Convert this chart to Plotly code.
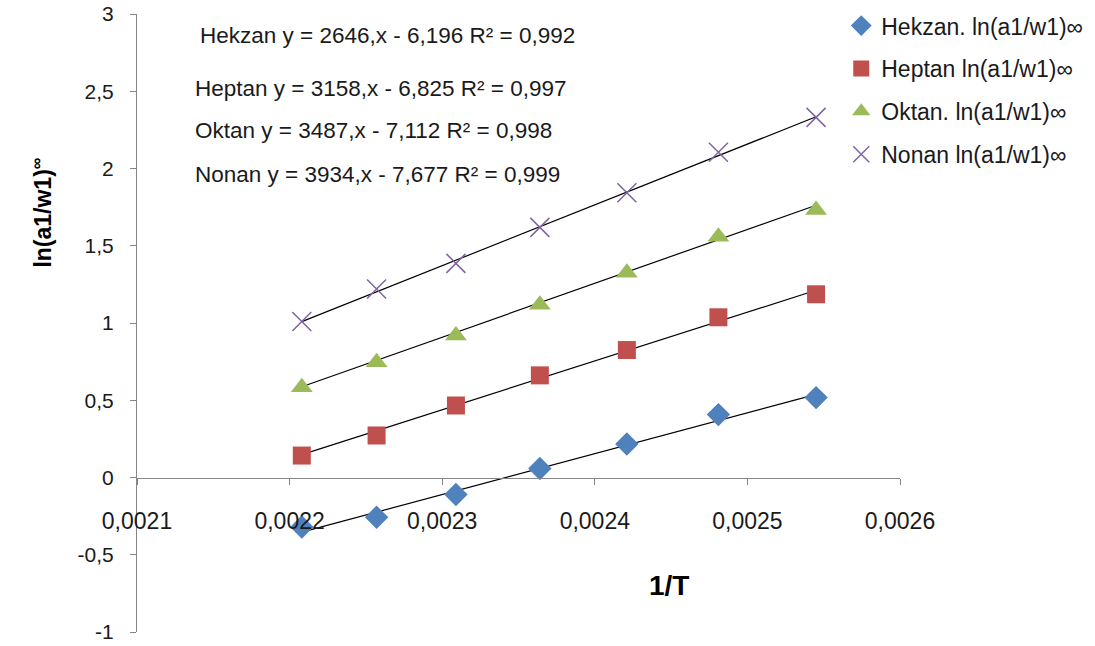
import plotly.graph_objects as go

# ---- data ----
inv_T = [0.002208, 0.002257, 0.002309, 0.002364, 0.002421, 0.002481, 0.002545]
hekzan = [-0.32, -0.257, -0.11, 0.058, 0.217, 0.407, 0.517]
heptan = [0.142, 0.272, 0.466, 0.661, 0.825, 1.037, 1.186]
oktan = [0.584, 0.746, 0.919, 1.118, 1.326, 1.559, 1.731]
nonan = [1.01, 1.22, 1.386, 1.619, 1.843, 2.105, 2.331]

series_names = ["Hekzan. ln(a1/w1)∞", "Heptan ln(a1/w1)∞", "Oktan. ln(a1/w1)∞", "Nonan ln(a1/w1)∞"]
short_names = ["Hekzan", "Heptan", "Oktan", "Nonan"]
slopes = [2646, 3158, 3487, 3934]
intercepts = [-6.196, -6.825, -7.112, -7.677]
r2 = ["0,992", "0,997", "0,998", "0,999"]
slope_txt = ["2646", "3158", "3487", "3934"]
icpt_txt = ["6,196", "6,825", "7,112", "7,677"]

y_tickvals = [-1, -0.5, 0, 0.5, 1, 1.5, 2, 2.5, 3]
y_ticktext = ["-1", "-0,5", "0", "0,5", "1", "1,5", "2", "2,5", "3"]
x_tickvals = [0.0021, 0.0022, 0.0023, 0.0024, 0.0025, 0.0026]
x_ticktext = ["0,0021", "0,0022", "0,0023", "0,0024", "0,0025", "0,0026"]

series_values = [hekzan, heptan, oktan, nonan]
colors = ["#4F81BD", "#C0504D", "#9BBB59", "#8064A2"]
symbols = ["diamond", "square", "triangle-up", "x-thin-open"]
sizes = [18, 18, 19, 19]

FONT = "Liberation Sans"
fig = go.Figure()

# trendlines
for k in range(4):
    xs = [inv_T[0], inv_T[-1]]
    ys = [slopes[k] * v + intercepts[k] for v in xs]
    fig.add_trace(go.Scatter(x=xs, y=ys, mode="lines", line=dict(color="#000000", width=1.2),
                             showlegend=False, hoverinfo="skip"))

for k in range(4):
    mk = dict(symbol=symbols[k], size=sizes[k], color=colors[k])
    if symbols[k] == "x-thin-open":
        mk["line"] = dict(color="#9C8AC4", width=1.5)
    else:
        mk["line"] = dict(width=0)
    fig.add_trace(go.Scatter(x=inv_T, y=series_values[k], mode="markers", name=series_names[k],
                             marker=mk, legendgroup=str(k)))

# equation annotations
ann_x = [0.080, 0.0734, 0.0734, 0.0734]
ann_y = [0.966, 0.880, 0.811, 0.741]
for k in range(4):
    fig.add_annotation(x=ann_x[k], y=ann_y[k], xref="paper", yref="paper", xanchor="left", yanchor="middle",
                       text=f"{short_names[k]} y = {slope_txt[k]},x - {icpt_txt[k]} R² = {r2[k]}",
                       showarrow=False, font=dict(family=FONT, size=22.5, color="#1a1a1a"))

# axis titles
fig.add_annotation(x=0.697, y=0.076, xref="paper", yref="paper", xanchor="center", yanchor="middle",
                   text="<b>1/T</b>", showarrow=False,
                   font=dict(family=FONT, size=28, color="#000000"))
fig.add_annotation(x=-0.125, y=0.678, xref="paper", yref="paper", xanchor="center", yanchor="middle",
                   text="<b>ln(a1/w1)<sup>∞</sup></b>",
                   showarrow=False, textangle=-90, font=dict(family=FONT, size=23, color="#000000"))

fig.update_layout(
    width=1095, height=646,
    margin=dict(l=137, r=195, t=14, b=14, autoexpand=False),
    paper_bgcolor="white", plot_bgcolor="white",
    separators=", ",
    font=dict(family=FONT, size=19, color="#1a1a1a"),
    xaxis=dict(range=[0.0021, 0.0026], tickvals=x_tickvals, ticktext=x_ticktext,
               showgrid=False, zeroline=False, showline=True, linecolor="#868686", linewidth=1,
               ticks="outside", ticklen=6, tickcolor="#868686",
               anchor="free", position=0.25, ticklabelstandoff=17,
               tickfont=dict(family=FONT, size=23, color="#1a1a1a")),
    yaxis=dict(range=[-1, 3], tickvals=y_tickvals, ticktext=y_ticktext, showgrid=False, zeroline=False,
               showline=True, linecolor="#868686", linewidth=1, ticks="outside", ticklen=6,
               tickcolor="#868686", ticklabelstandoff=12,
               tickfont=dict(family=FONT, size=21, color="#1a1a1a")),
    legend=dict(x=0.923, y=1.016, xanchor="left", yanchor="top", font=dict(family=FONT, size=23, color="#1a1a1a"),
                tracegroupgap=10, bgcolor="rgba(0,0,0,0)"),
)

fig.write_html("out.html", config={"displayModeBar": False},
               post_script="document.body.style.margin='0';")
